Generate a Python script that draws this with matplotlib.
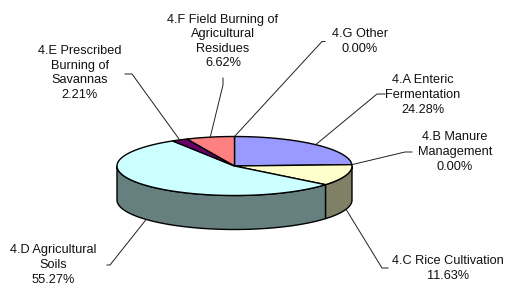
import numpy as np
import matplotlib
matplotlib.use("Agg")
import matplotlib.pyplot as plt
from matplotlib.patches import Polygon

# data
categories = ["4.A Enteric\nFermentation", "4.B Manure\nManagement", "4.C Rice Cultivation",
              "4.D Agricultural\nSoils", "4.E Prescribed\nBurning of\nSavannas",
              "4.F Field Burning of\nAgricultural\nResidues", "4.G Other"]
shares = [24.28, 0.00, 11.63, 55.27, 2.21, 6.62, 0.00]
colors = ["#9999FF", "#993366", "#FFFFCC", "#CCFFFF", "#660066", "#FF8080", "#0066CC"]

# layout (pixels)
cx, cy, rx, ry, depth = 234.5, 166.0, 117.5, 29.5, 34.0
# label centre, leader anchor, knee
label_pos = [(423, 95), (455, 152), (448, 268.5), (53, 265), (80, 73), (223, 41.5), (360, 41.5)]
leader_anchor = [(385, 94), (412, 152), (388, 268), (107, 265), (125, 74), (223, 78), (325, 41.5)]
leader_knee = [(377, 94), (405, 152), (382, 268), (110, 265), (132, 74), (223, 85), (322, 41.5)]

plt.rcParams["font.family"] = ["Liberation Sans", "DejaVu Sans"]

fig = plt.figure(figsize=(5.07, 2.89), dpi=100)
ax = fig.add_axes([0, 0, 1, 1])
ax.set_xlim(0, 507)
ax.set_ylim(289, 0)
ax.axis("off")


def pt(theta, dz=0.0):
    t = np.radians(theta)
    return cx + rx * np.cos(t), cy - ry * np.sin(t) + dz


def darker(c, f=0.5):
    r, g, b = matplotlib.colors.to_rgb(c)
    return (r * f, g * f, b * f)


# slice angles, clockwise from 12 o'clock
total = sum(shares)
bounds = [90.0]
for v in shares:
    bounds.append(bounds[-1] - v / total * 360.0)

# side faces (front half only)
for i, v in enumerate(shares):
    a1, a2 = bounds[i + 1], bounds[i]
    for off in (0, -360):
        lo, hi = max(a1 + off, -180), min(a2 + off, 0)
        if hi - lo <= 0:
            continue
        th = np.linspace(lo, hi, 80)
        top = [pt(t) for t in th]
        bot = [pt(t, depth) for t in th[::-1]]
        ax.add_patch(Polygon(top + bot, closed=True, facecolor=darker(colors[i]),
                             edgecolor="black", lw=1.0, zorder=2))

# top faces
for i, v in enumerate(shares):
    if v <= 0:
        continue
    th = np.linspace(bounds[i], bounds[i + 1], 120)
    verts = [(cx, cy)] + [pt(t) for t in th]
    ax.add_patch(Polygon(verts, closed=True, facecolor=colors[i],
                         edgecolor="black", lw=1.0, zorder=3))

# labels and leaders
for i, v in enumerate(shares):
    mid = (bounds[i] + bounds[i + 1]) / 2
    dz = depth if np.sin(np.radians(mid)) < -0.3 else 0.0
    ex, ey = pt(mid, dz)
    xs = [leader_anchor[i][0], leader_knee[i][0], ex]
    ys = [leader_anchor[i][1], leader_knee[i][1], ey]
    ax.plot(xs, ys, color="#202020", lw=0.7, zorder=4)
    ax.text(label_pos[i][0], label_pos[i][1], f"{categories[i]}\n{v:.2f}%",
            ha="center", va="center", multialignment="center",
            fontsize=9.2, linespacing=1.28, color="#111111", zorder=5)

fig.savefig("out.png", dpi=100)
